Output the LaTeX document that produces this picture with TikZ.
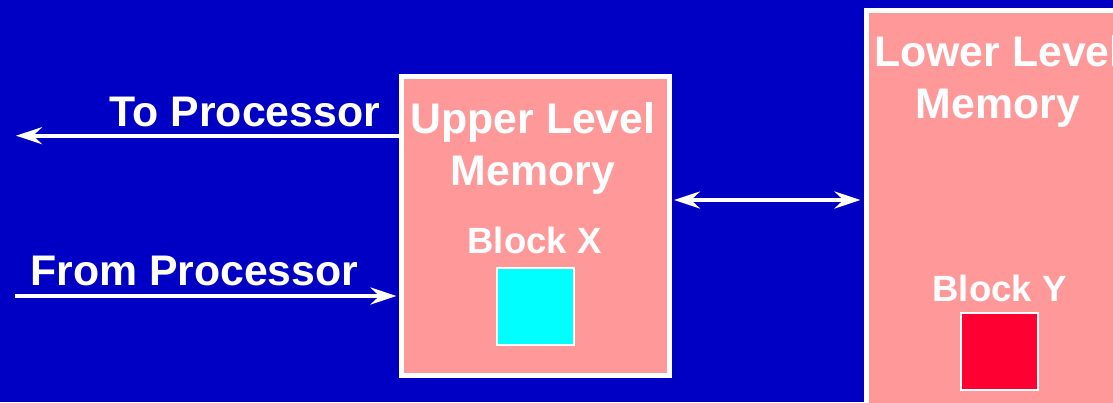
\documentclass[tikz,border=0pt]{standalone}
\usepackage{fontspec}
\setmainfont{Liberation Sans}
\usetikzlibrary{arrows.meta}

\definecolor{slidebg}{RGB}{0,0,196}
\definecolor{memfill}{RGB}{255,153,153}
\definecolor{blockx}{RGB}{0,255,255}
\definecolor{blocky}{RGB}{255,0,51}

\tikzset{
  membox/.style={draw=white, line width=5pt, fill=memfill, inner sep=0pt},
  blockbox/.style={draw=white, line width=2pt, inner sep=0pt,
    minimum width=77pt, minimum height=77pt},
  bigtext/.style={text=white, inner sep=0pt,
    font=\bfseries\fontsize{42.8}{52}\selectfont},
  smalltext/.style={text=white, inner sep=0pt,
    font=\bfseries\fontsize{36.5}{42}\selectfont},
  headtip/.tip={Stealth[length=26pt, width=17pt, inset=9pt]},
  flow/.style={draw=white, line width=4pt, -headtip},
  bothflow/.style={draw=white, line width=4pt, headtip-headtip}
}

\begin{document}
\begin{tikzpicture}[x=1pt, y=-1pt]
  \useasboundingbox (0,0) rectangle (1113,402);
  \clip (0,0) rectangle (1113,402);
  \fill[slidebg] (0,0) rectangle (1113,402);

  % memory levels
  \node[membox, minimum width=267.5pt, minimum height=298.7pt]
    (upper) at (535.25,226.2) {};
  \node[membox, minimum width=320pt, minimum height=460pt]
    (lower) at (1026,240) {};

  % upper level contents
  \node[bigtext, anchor=base] (uppert1) at (533,133.3) {Upper Level};
  \node[bigtext, anchor=base] (uppert2) at (533,185) {Memory};
  \node[smalltext, anchor=base] (bxlabel) at (534.5,253.5) {Block X};
  \node[blockbox, fill=blockx] (bx) at (535.2,306.2) {};

  % lower level contents
  \node[bigtext, anchor=base] (lowert1) at (998,66.7) {Lower Level};
  \node[bigtext, anchor=base] (lowert2) at (998,118.3) {Memory};
  \node[smalltext, anchor=base] (bylabel) at (999.5,301) {Block Y};
  \node[blockbox, fill=blocky] (by) at (999.2,351.5) {};

  % processor side
  \coordinate (toproc) at (16,135.7);
  \coordinate (fromproc) at (15,296);
  \node[bigtext, anchor=base west] (tolabel) at (109.5,126) {To Processor};
  \node[bigtext, anchor=base west] (fromlabel) at (30,285) {From Processor};

  \draw[flow] (upper.west |- toproc) -- (toproc);
  \draw[flow, shorten >=2.5pt] (fromproc) -- (upper.west |- fromproc);

  % transfer between levels
  \coordinate (xfer) at (0,200);
  \draw[bothflow, shorten <=2.5pt, shorten >=3pt]
    (upper.east |- xfer) -- (lower.west |- xfer);
\end{tikzpicture}
\end{document}
